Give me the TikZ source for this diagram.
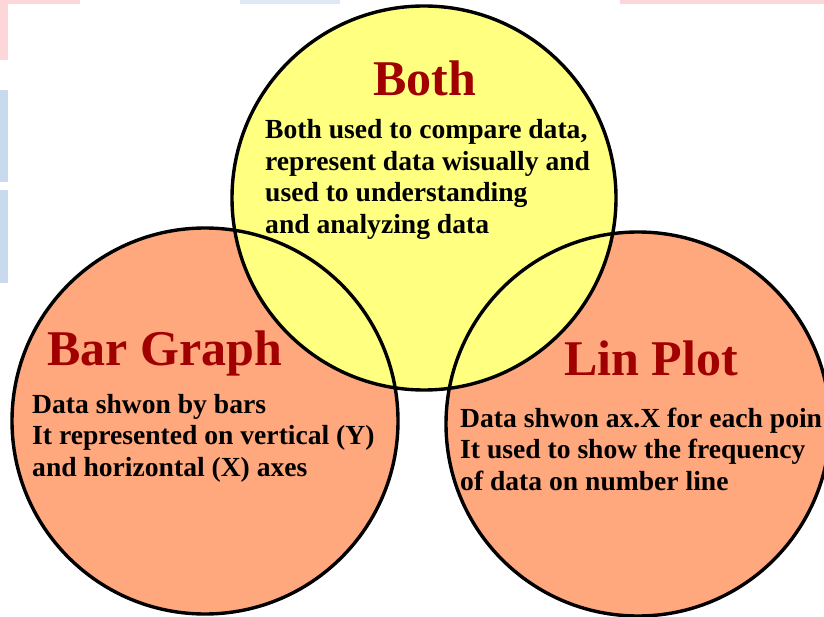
\documentclass[tikz,border=0pt]{standalone}
\usepackage{fontspec}
\setmainfont{Liberation Serif}
\definecolor{yel}{HTML}{FFFF80}
\definecolor{org}{HTML}{FFA77D}
\definecolor{ttl}{HTML}{A00000}
\definecolor{pinkbg}{HTML}{FDD6D9}
\definecolor{bluebg}{HTML}{C9D9EE}
\tikzset{
  circline/.style={draw=black, line width=3.4pt},
  title/.style={anchor=base west, inner sep=0pt, text=ttl, font=\fontsize{50}{60}\selectfont\bfseries},
  body/.style={anchor=base west, inner sep=0pt, text=black, font=\fontsize{27.6}{31.5}\selectfont\bfseries},
}
\newcommand{\blk}[1]{\vtop{\baselineskip=31.5pt #1}}
\begin{document}
\begin{tikzpicture}[x=1pt,y=-1pt]
\useasboundingbox (0,0) rectangle (824,617);
\clip (0,0) rectangle (824,617);
\fill[white] (0,0) rectangle (824,617);
% faint background strips
\fill[pinkbg] (0,0) rectangle (80,4);
\fill[pinkbg] (0,0) rectangle (8,60);
\fill[bluebg] (0,90) rectangle (8,182);
\fill[bluebg] (0,190) rectangle (8,283);
\fill[bluebg!60] (240,0) rectangle (340,4);
\fill[pinkbg] (620,0) rectangle (824,4);
% circle centres
\coordinate (cb) at (424,198);
\coordinate (cl) at (205,421);
\coordinate (cr) at (638,424);
% fills
\fill[org] (cl) circle (193);
\fill[org] (cr) circle (192);
\fill[yel] (cb) circle (192);
% outlines
\draw[circline] (cl) circle (193);
\draw[circline] (cr) circle (192);
\draw[circline] (cb) circle (192);
% titles
\node[title] (tboth) at (373,96) {Both};
\node[title] (tbar) at (47,365) {Bar Graph};
\node[title] (tlin) at (564,375) {Lin Plot};
% bodies
\node[body] (bboth) at (265,139) {\blk{\hbox{Both used to compare data,}\hbox{represent data wisually and}\hbox{used to understanding}\hbox{and analyzing data}}};
\node[body] (bbar) at (32,413) {\blk{\hbox{Data shwon by bars}\hbox{It represented on vertical (Y)}\hbox{and horizontal (X) axes}}};
\node[body] (blin) at (460,427) {\blk{\hbox{Data shwon ax.X for each poin}\hbox{It used to show the frequency}\hbox{of data on number line}}};
\end{tikzpicture}
\end{document}
